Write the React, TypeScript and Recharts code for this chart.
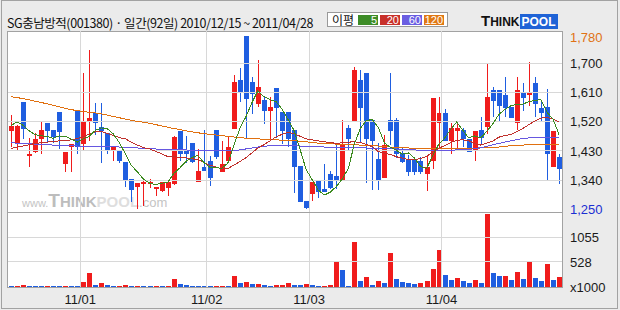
import React from "react";
import { ComposedChart, Bar, Line, XAxis, YAxis, ReferenceLine, Cell } from "recharts";

// daily candles, 2010/12/15 ~ 2011/04/28 (92 trading days)
const opens = [
  1492, 1452, 1580, 1413, 1426, 1466, 1515, 1493, 1549, 1390, 1443, 1555, 1452, 1523, 1546, 1504, 1485, 1430, 1432, 1397,
  1344, 1319, 1327, 1327, 1312, 1306, 1317, 1327, 1491, 1431, 1453, 1333, 1382, 1400, 1493, 1364, 1399, 1497, 1648, 1785,
  1642, 1575, 1588, 1554, 1623, 1549, 1549, 1493, 1384, 1275, 1296, 1338, 1314, 1360, 1353, 1342, 1499, 1522, 1648, 1670,
  1524, 1406, 1348, 1524, 1524, 1423, 1406, 1406, 1400, 1358, 1398, 1516, 1546, 1459, 1490, 1493, 1468, 1429, 1493, 1503,
  1616, 1616, 1601, 1564, 1516, 1609, 1601, 1639, 1561, 1564, 1379, 1412,
];
const highs = [
  1539, 1511, 1580, 1471, 1484, 1520, 1515, 1493, 1549, 1428, 1452, 1555, 1670, 1741, 1578, 1576, 1485, 1442, 1432, 1397,
  1344, 1330, 1342, 1345, 1320, 1335, 1340, 1476, 1491, 1477, 1453, 1436, 1493, 1415, 1493, 1462, 1474, 1663, 1686, 1785,
  1656, 1709, 1599, 1595, 1623, 1549, 1549, 1493, 1384, 1275, 1335, 1338, 1391, 1369, 1449, 1524, 1509, 1688, 1679, 1670,
  1524, 1454, 1479, 1670, 1530, 1443, 1418, 1406, 1410, 1416, 1592, 1596, 1560, 1515, 1512, 1502, 1468, 1491, 1533, 1700,
  1627, 1616, 1658, 1564, 1658, 1639, 1704, 1658, 1580, 1622, 1490, 1419,
];
const lows = [
  1443, 1431, 1466, 1382, 1423, 1421, 1457, 1454, 1436, 1366, 1366, 1421, 1431, 1459, 1480, 1394, 1421, 1398, 1392, 1318,
  1273, 1250, 1262, 1317, 1290, 1304, 1290, 1325, 1400, 1394, 1393, 1333, 1368, 1321, 1405, 1364, 1394, 1497, 1580, 1466,
  1543, 1565, 1512, 1460, 1469, 1450, 1443, 1300, 1273, 1250, 1275, 1286, 1304, 1312, 1312, 1342, 1430, 1522, 1457, 1331,
  1310, 1310, 1348, 1449, 1407, 1394, 1353, 1356, 1358, 1306, 1375, 1437, 1460, 1421, 1437, 1443, 1426, 1398, 1451, 1481,
  1533, 1523, 1533, 1531, 1495, 1554, 1568, 1533, 1523, 1337, 1379, 1327,
];
const closes = [
  1506, 1506, 1497, 1422, 1467, 1493, 1491, 1473, 1488, 1428, 1452, 1443, 1523, 1530, 1516, 1491, 1430, 1442, 1398, 1342,
  1311, 1330, 1335, 1335, 1320, 1335, 1335, 1474, 1420, 1420, 1397, 1369, 1368, 1348, 1410, 1390, 1443, 1642, 1609, 1589,
  1606, 1627, 1552, 1564, 1562, 1490, 1466, 1382, 1273, 1254, 1335, 1304, 1304, 1317, 1342, 1448, 1466, 1679, 1561, 1466,
  1460, 1342, 1447, 1491, 1421, 1397, 1366, 1366, 1366, 1382, 1592, 1546, 1460, 1499, 1499, 1466, 1426, 1490, 1471, 1596,
  1584, 1569, 1563, 1531, 1616, 1593, 1609, 1575, 1547, 1420, 1490, 1373,
];
// volume, x1000 shares
const volumes = [
  25, 30, 32, 28, 24, 22, 27, 23, 21, 26, 24, 22, 112, 302, 42, 84, 42, 25, 30, 42,
  25, 30, 24, 22, 26, 24, 30, 169, 63, 42, 25, 23, 22, 21, 25, 28, 26, 232, 84, 105,
  63, 70, 42, 21, 42, 45, 84, 42, 40, 63, 42, 21, 24, 42, 527, 358, 21, 949, 127, 211,
  42, 127, 84, 717, 169, 105, 84, 63, 84, 127, 380, 780, 253, 148, 190, 127, 84, 148, 84, 1540,
  295, 232, 240, 148, 316, 169, 527, 190, 127, 485, 148, 211,
];
// moving averages
const ma5 = [
  1508, 1519, 1509, 1492, 1480, 1477, 1474, 1469, 1476, 1475, 1466, 1457, 1467, 1475, 1493, 1501, 1498, 1482, 1455, 1421,
  1385, 1365, 1343, 1331, 1326, 1331, 1332, 1360, 1377, 1397, 1409, 1416, 1395, 1380, 1378, 1377, 1392, 1447, 1499, 1535,
  1578, 1615, 1597, 1588, 1582, 1559, 1527, 1493, 1435, 1373, 1342, 1310, 1294, 1303, 1320, 1343, 1375, 1450, 1499, 1524,
  1526, 1502, 1455, 1441, 1432, 1420, 1424, 1408, 1383, 1375, 1414, 1450, 1469, 1496, 1519, 1494, 1470, 1476, 1470, 1490,
  1513, 1542, 1557, 1569, 1573, 1574, 1582, 1585, 1588, 1549, 1528, 1481,
];
const ma20 = [
  1437, 1442, 1445, 1449, 1453, 1455, 1457, 1459, 1461, 1462, 1464, 1468, 1474, 1482, 1489, 1490, 1484, 1477, 1471, 1467,
  1457, 1448, 1440, 1436, 1429, 1421, 1413, 1413, 1410, 1409, 1406, 1403, 1395, 1386, 1381, 1375, 1376, 1386, 1397, 1409,
  1424, 1439, 1449, 1461, 1473, 1481, 1487, 1483, 1475, 1467, 1464, 1461, 1458, 1456, 1453, 1455, 1457, 1458, 1456, 1450,
  1443, 1428, 1423, 1419, 1412, 1408, 1403, 1402, 1407, 1413, 1426, 1438, 1446, 1455, 1463, 1464, 1462, 1452, 1448, 1454,
  1460, 1472, 1478, 1480, 1489, 1499, 1511, 1522, 1531, 1533, 1528, 1519,
];
const ma60 = [
  1455, 1454, 1453, 1452, 1451, 1450, 1449, 1448, 1447, 1446, 1446, 1445, 1445, 1445, 1445, 1444, 1444, 1443, 1442, 1441,
  1440, 1439, 1438, 1437, 1436, 1435, 1434, 1434, 1433, 1433, 1432, 1431, 1430, 1430, 1430, 1430, 1430, 1431, 1433, 1436,
  1439, 1442, 1444, 1446, 1447, 1447, 1447, 1446, 1445, 1445, 1444, 1443, 1442, 1442, 1441, 1441, 1440, 1440, 1439, 1439,
  1438, 1438, 1437, 1437, 1436, 1435, 1434, 1433, 1432, 1432, 1432, 1432, 1432, 1432, 1433, 1433, 1434, 1437, 1440, 1444,
  1449, 1453, 1457, 1461, 1465, 1468, 1470, 1471, 1471, 1471, 1471, 1471,
];
const ma120 = [
  1597, 1594, 1591, 1587, 1583, 1579, 1575, 1570, 1566, 1561, 1557, 1554, 1551, 1549, 1547, 1544, 1540, 1536, 1532, 1528,
  1524, 1521, 1518, 1515, 1511, 1507, 1503, 1499, 1496, 1492, 1489, 1486, 1483, 1481, 1479, 1477, 1475, 1473, 1471, 1469,
  1468, 1467, 1466, 1465, 1464, 1463, 1462, 1461, 1460, 1458, 1456, 1454, 1453, 1452, 1451, 1450, 1450, 1449, 1448, 1447,
  1446, 1445, 1444, 1442, 1441, 1440, 1439, 1438, 1437, 1437, 1437, 1437, 1437, 1437, 1437, 1437, 1438, 1438, 1439, 1440,
  1441, 1442, 1444, 1446, 1447, 1448, 1449, 1450, 1450, 1451, 1451, 1451,
];

const monthStarts = [12, 33, 50, 72]; // first trading day of each month
const monthLabels = ["11/01", "11/02", "11/03", "11/04"];
const priceTicks = [1250, 1340, 1430, 1520, 1610, 1700, 1780];
const priceGrid = [1340, 1430, 1520, 1610, 1700];
const volTicks = [0, 528, 1055];

const UP = "#f01c1c";
const DOWN = "#1f5ee0";
const FONT = "'Liberation Sans', Arial, sans-serif";

const rows = opens.map((o, i) => ({
  day: i + 0.5,
  range: [lows[i], highs[i]],
  open: o,
  high: highs[i],
  low: lows[i],
  close: closes[i],
  vol: volumes[i],
  ma5: ma5[i],
  ma20: ma20[i],
  ma60: ma60[i],
  ma120: ma120[i],
}));

function Candle(props: any) {
  const { x, y, height, payload } = props;
  if (x == null || y == null) return null;
  const { open, close, high, low } = payload;
  const color = close >= open ? UP : DOWN;
  const k = high === low ? 0 : height / (high - low);
  const top = y + (high - Math.max(open, close)) * k;
  const bot = y + (high - Math.min(open, close)) * k;
  const left = Math.round(x);
  return (
    <g>
      <line x1={left + 2.5} x2={left + 2.5} y1={Math.round(y)} y2={Math.round(y + height)} stroke={color} />
      <rect x={left} y={Math.round(top)} width={5} height={Math.max(1, Math.round(bot) - Math.round(top))} fill={color} />
    </g>
  );
}

function VolBar(props: any) {
  const { x, y, height, fill } = props;
  if (x == null) return null;
  const top = Math.round(y);
  const bot = Math.round(y + height);
  return <rect x={Math.round(x)} y={top} width={5} height={Math.max(1, bot - top)} fill={fill} />;
}

function PriceTick({ x, y, payload }: any) {
  const v = payload.value;
  const color = v === 1780 ? "#e07214" : v === 1250 ? "#1b2fd2" : "#1a1a1a";
  return (
    <text x={x} y={y} dy="0.355em" textAnchor="start" fill={color} fontSize={13} fontFamily={FONT}>
      {v.toLocaleString("en-US")}
    </text>
  );
}

function VolTick({ x, y, payload }: any) {
  const v = payload.value;
  return (
    <text x={x} y={y} dy="0.355em" textAnchor="start" fill="#1a1a1a" fontSize={13} fontFamily={FONT}>
      {v === 0 ? "x1000" : v}
    </text>
  );
}

function DateTick({ x, y, payload }: any) {
  const idx = monthStarts.indexOf(payload.value);
  return (
    <text x={x} y={y} dy="0.71em" textAnchor="middle" fill="#1a1a1a" fontSize={13} fontFamily={FONT}>
      {monthLabels[idx]}
    </text>
  );
}

const legend = [
  { label: "5", color: "#3d8c27" },
  { label: "20", color: "#c8302a" },
  { label: "60", color: "#6a5ee2" },
  { label: "120", color: "#e07814" },
];

export default function App() {
  return (
    <div style={{ position: "absolute", left: 0, top: 0, width: 620, height: 310, background: "#ebebeb", overflow: "hidden", fontFamily: FONT }}>
      <style>{".panel svg{overflow:visible}"}</style>
      <div style={{ position: "absolute", left: 1, top: 0, width: 617, height: 309, border: "1px solid #a2a2a2", boxSizing: "border-box" }} />

      {/* title */}
      <div style={{ position: "absolute", left: 7, top: 15, fontSize: 12.5, letterSpacing: -0.45, color: "#111", whiteSpace: "nowrap", fontFamily: "'Noto Sans CJK KR', sans-serif", lineHeight: "16px" }}>
        SG충남방적(001380) · 일간(92일) 2010/12/15 ~ 2011/04/28
      </div>

      {/* MA legend */}
      <div style={{ position: "absolute", left: 327, top: 12, width: 121, height: 15, background: "#fff", border: "1px solid #999", boxSizing: "border-box" }}>
        <span style={{ position: "absolute", left: 4, top: -1, fontSize: 12, fontFamily: "'Noto Sans CJK KR', sans-serif", color: "#111", lineHeight: "15px" }}>이평</span>
        {legend.map((l, i) => (
          <span key={l.label} style={{ position: "absolute", left: 30 + i * 22, top: 2, width: 20, height: 10, background: l.color, color: "#fff", fontSize: 11, lineHeight: "10px", textAlign: "right", paddingRight: 1, boxSizing: "border-box" }}>
            {l.label}
          </span>
        ))}
      </div>

      {/* logo */}
      <div style={{ position: "absolute", left: 481, top: 14, height: 14, whiteSpace: "nowrap", fontFamily: "'Liberation Sans', Arial, sans-serif", fontWeight: 900, lineHeight: "14px" }}>
        <span style={{ fontSize: 15, color: "#111" }}>T</span>
        <span style={{ fontSize: 12, color: "#111" }}>HINK</span>
        <span style={{ fontSize: 12, color: "#fff", background: "#1f63d6", padding: "1px 2px 0 2px" }}>POOL</span>
      </div>

      {/* plot background */}
      <div style={{ position: "absolute", left: 7, top: 31, width: 556, height: 257, background: "#fff", border: "1px solid #a2a2a2", boxSizing: "border-box" }} />

      {/* watermark */}
      <div style={{ position: "absolute", left: 22, top: 192, whiteSpace: "nowrap", fontWeight: 700, lineHeight: "18px" }}>
        <span style={{ fontSize: 11, color: "#c4c4c4", fontWeight: 400 }}>www.</span>
        <span style={{ fontSize: 19, color: "#bdbdbd" }}>T</span>
        <span style={{ fontSize: 15, color: "#bdbdbd" }}>HINK</span>
        <span style={{ fontSize: 15, color: "#dedede" }}>POOL</span>
        <span style={{ fontSize: 13, color: "#c4c4c4", fontWeight: 400 }}>.com</span>
      </div>

      {/* volume panel */}
      <div className="panel" style={{ position: "absolute", left: 8, top: 212, shapeRendering: "crispEdges" }}>
        <ComposedChart width={612} height={97} data={rows} margin={{ top: 0, right: 0, bottom: 0, left: 0 }}>
          <XAxis
            dataKey="day"
            type="number"
            domain={[0, 92]}
            ticks={monthStarts}
            tick={<DateTick />}
            axisLine={false}
            tickLine={false}
            height={22}
            interval={0}
          />
          <YAxis
            orientation="right"
            width={58}
            domain={[0, 1583]}
            ticks={volTicks}
            tick={<VolTick />}
            interval={0}
            axisLine={false}
            tickLine={false}
            allowDataOverflow
          />
          {[528, 1055].map((v) => (
            <ReferenceLine key={v} y={v} stroke="#d8d8d8" />
          ))}
          {monthStarts.map((d) => (
            <ReferenceLine key={d} x={d} stroke="#d8d8d8" />
          ))}
          <Bar dataKey="vol" barSize={5} shape={<VolBar />} isAnimationActive={false}>
            {rows.map((r, i) => (
              <Cell key={i} fill={i > 0 && r.vol >= volumes[i - 1] ? UP : DOWN} />
            ))}
          </Bar>
        </ComposedChart>
      </div>

      <div style={{ position: "absolute", left: 8, top: 212, width: 554, height: 1, background: "#a2a2a2" }} />

      {/* price panel */}
      <div className="panel" style={{ position: "absolute", left: 8, top: 31, shapeRendering: "crispEdges" }}>
        <ComposedChart width={612} height={181} data={rows} margin={{ top: 0, right: 0, bottom: 0, left: 0 }}>
          <XAxis dataKey="day" type="number" domain={[0, 92]} hide />
          <YAxis
            orientation="right"
            width={58}
            domain={[1242, 1799]}
            ticks={priceTicks}
            tick={<PriceTick />}
            interval={0}
            axisLine={false}
            tickLine={false}
            allowDataOverflow
          />
          {priceGrid.map((v) => (
            <ReferenceLine key={v} y={v} stroke="#d8d8d8" />
          ))}
          {monthStarts.map((d) => (
            <ReferenceLine key={d} x={d} stroke="#d8d8d8" />
          ))}
          <Line dataKey="ma120" stroke="#e07010" dot={false} strokeWidth={1} isAnimationActive={false} />
          <Line dataKey="ma60" stroke="#6657e0" dot={false} strokeWidth={1} isAnimationActive={false} />
          <Line dataKey="ma20" stroke="#c0302c" dot={false} strokeWidth={1} isAnimationActive={false} />
          <Line dataKey="ma5" stroke="#3b8a1e" dot={false} strokeWidth={1} isAnimationActive={false} />
          <Bar dataKey="range" barSize={5} shape={<Candle />} isAnimationActive={false} />
        </ComposedChart>
      </div>
    </div>
  );
}
